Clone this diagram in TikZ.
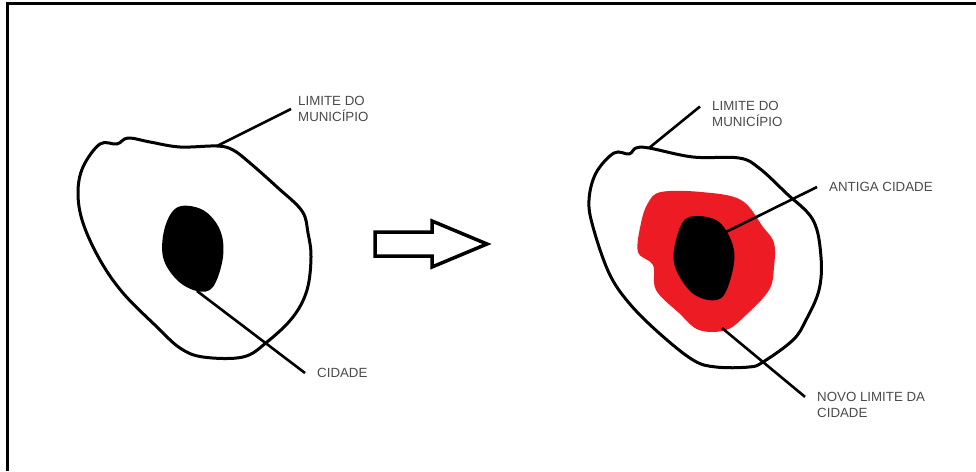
\documentclass[tikz,border=0pt]{standalone}
\usepackage{fontspec}
\setmainfont{Liberation Sans}
\definecolor{paintred}{HTML}{ED1C24}
\definecolor{labelgrey}{HTML}{4A4A4A}
\tikzset{
    outline/.style={line width=3pt, line join=round},
    leader/.style={line width=2.6pt},
    tag/.style={anchor=west, align=left, font=\fontsize{13.3}{16}\selectfont, text=labelgrey, inner xsep=12pt, inner ysep=0pt}
}
\begin{document}
\begin{tikzpicture}[x=1pt, y=-1pt]
    \useasboundingbox (0,0) rectangle (976,471);
    % Frame
    \draw [line width=3pt] (976,3) -- (7,3) -- (7,471);
    % Left municipality
    \draw [outline] plot [smooth cycle, tension=0.6] coordinates {(100,144) (117,144) (128,138) (150,142) (180,147) (217,146) (233,150) (250,163) (277,187) (302,211) (308,233) (311,257) (307,290) (293,317) (267,342) (243,357) (203,357) (180,348) (157,327) (123,293) (100,260) (83,223) (78,193) (83,167)};
    \fill [black] plot [smooth cycle, tension=0.6] coordinates {(178,207) (203,210) (220,230) (223,257) (213,287) (197,291) (177,280) (163,257) (165,227)};
    % Arrow between the two
    \draw [line width=3.5pt, miter limit=10] (375,232) -- (432,232) -- (432,221) -- (487,244) -- (432,267) -- (432,256) -- (375,256) -- cycle;
    % Right municipality
    \draw [outline] plot [smooth cycle, tension=0.6] coordinates {(614,153) (629,154) (636,148) (649,148) (693,157) (739,158) (759,168) (786,193) (813,220) (821,257) (819,290) (806,320) (793,340) (763,362) (749,367) (716,367) (693,360) (659,333) (629,303) (609,273) (593,227) (589,200) (596,173)};
    \fill [paintred] plot [smooth cycle, tension=0.6] coordinates {(661,192) (701,192) (741,200) (763,227) (774,243) (774,267) (769,290) (746,315) (726,330) (699,330) (679,313) (656,290) (653,265) (638,252) (641,223) (648,203)};
    \fill [black] plot [smooth cycle, tension=0.6] coordinates {(689,217) (716,220) (731,240) (734,263) (724,295) (708,300) (689,290) (674,263) (678,233)};
    % Labels
    \node [tag, inner xsep=7pt] (limiteA) at (291,109) {LIMITE DO\\MUNICÍPIO};
    \node [tag] (cidade) at (305,373) {CIDADE};
    \node [tag] (limiteB) at (700,114) {LIMITE DO\\MUNICÍPIO};
    \node [tag] (antiga) at (817,187) {ANTIGA CIDADE};
    \node [tag] (novo) at (805,405) {NOVO LIMITE DA\\CIDADE};
    % Points on the shapes
    \coordinate (bordaA) at (217,146);
    \coordinate (centroA) at (197,291);
    \coordinate (bordaB) at (649,148);
    \coordinate (centroB) at (726,232);
    \coordinate (novaB) at (722,328);
    % Leaders
    \draw [leader] (bordaA) -- (limiteA.west);
    \draw [leader] (centroA) -- (cidade.west);
    \draw [leader] (bordaB) -- (limiteB.171);
    \draw [leader] (centroB) -- (antiga.west);
    \draw [leader] (novaB) -- (novo.173);
\end{tikzpicture}
\end{document}
